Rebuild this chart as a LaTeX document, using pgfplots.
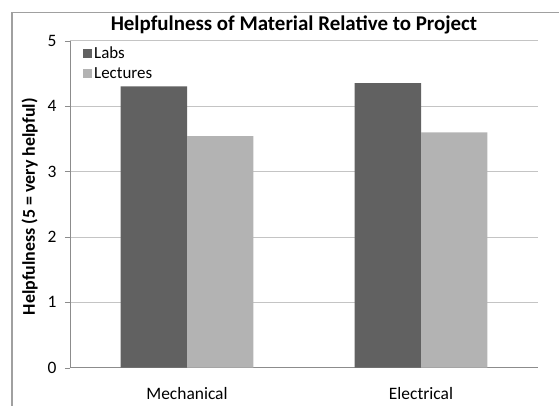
\documentclass[border=0pt]{standalone}
\usepackage{fontspec}
\setmainfont{Carlito}
\usepackage{pgfplots}
\pgfplotsset{compat=1.18}
\definecolor{labs}{HTML}{616161}
\definecolor{lects}{HTML}{B3B3B3}
\definecolor{gridc}{HTML}{C4C4C4}
\definecolor{axc}{HTML}{8C8C8C}
\definecolor{framec}{HTML}{A0A0A0}
\begin{document}
\begin{tikzpicture}[x=1bp,y=1bp]
\begin{axis}[
  at={(0,0)}, anchor=south west,
  scale only axis,
  clip=false,
  width=468bp, height=327bp,
  xmin=-0.5, xmax=1.5,
  ymin=0, ymax=5,
  ytick={0,1,2,3,4,5},
  xtick={0,1},
  xticklabels={Mechanical,Electrical},
  extra x ticks={-0.5,0.5,1.5},
  extra x tick labels={},
  extra x tick style={major tick length=5bp, tick style={axc}, tick pos=left, grid=none},
  major x tick style={draw=none},
  xtick pos=left, ytick pos=left,
  tick align=outside,
  major tick length=5bp,
  y tick style={axc},
  ymajorgrids,
  grid style={gridc, line width=0.8bp},
  axis x line*=bottom,
  axis y line*=left,
  axis line style={axc, line width=0.8bp},
  x axis line style={-},
  y axis line style={-},
  ybar=0pt,
  bar width=0.284,
  /pgf/number format/assume math mode=true,
  tick label style={font=\fontsize{17.5}{20}\selectfont, text=black},
  yticklabel style={xshift=-5bp},
  xticklabel style={yshift=-11bp},
  ylabel={\textbf{Helpfulness (5 = very helpful)}},
  ylabel style={font=\fontsize{18}{20}\selectfont, at={(axis description cs:0,0.4924)}, anchor=base, yshift=35bp},
  title={\textbf{Helpfulness of Material Relative to Project}},
  title style={font=\fontsize{21}{24}\selectfont, at={(axis description cs:0.4786,1)}, anchor=base, yshift=4.5bp},
  legend style={draw=none, fill=none, at={(13bp,323.5bp)}, anchor=north west, font=\fontsize{17}{20}\selectfont, row sep=4bp, inner sep=0pt,
    legend cell align=left},
  legend image code/.code={\fill[#1] (0bp,-4.5bp) rectangle (9bp,4.5bp);},
]
\addplot[fill=labs, draw=none] coordinates {(0,4.30) (1,4.35)};
\addplot[fill=lects, draw=none] coordinates {(0,3.54) (1,3.60)};
\legend{Labs,Lectures}
\draw[framec, line width=1.1bp] (rel axis cs:-0.12393,-0.13) -- (rel axis cs:-0.12393,1.087) -- (rel axis cs:1.06,1.087);
\end{axis}
\pgfresetboundingbox
\useasboundingbox (-70,-37.3) rectangle (489,367.7);
\end{tikzpicture}
\end{document}
